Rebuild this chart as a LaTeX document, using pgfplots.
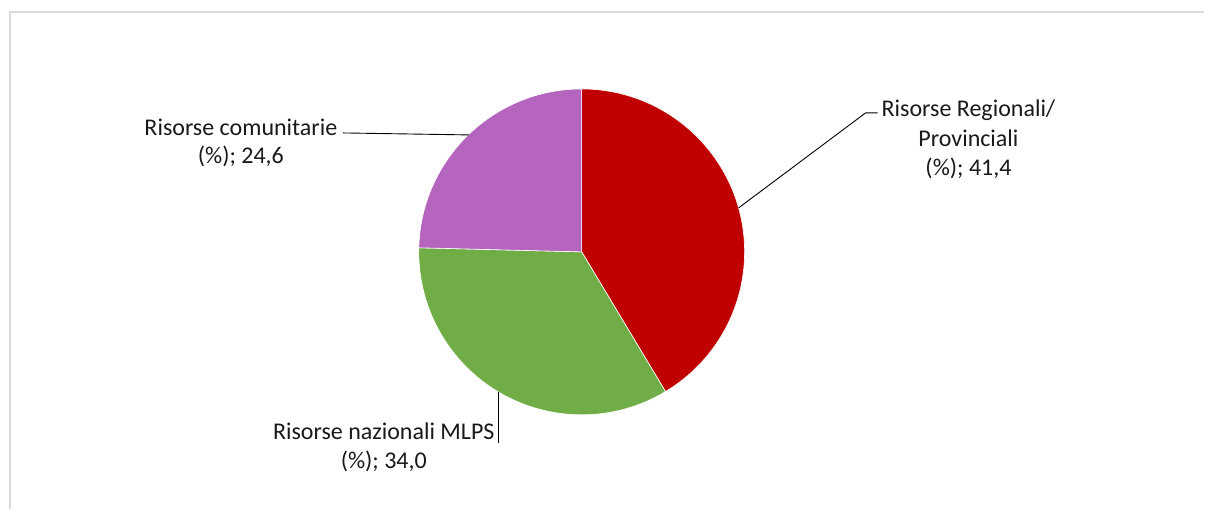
\documentclass[border=0pt]{standalone}
\usepackage{pgfplots}
\pgfplotsset{compat=1.18}
\usepackage{pgfplotstable}
\usepackage{fontspec}
\setmainfont{Carlito}
\definecolor{cReg}{HTML}{C00000}
\definecolor{cNaz}{HTML}{70AD47}
\definecolor{cCom}{HTML}{B565BE}
\definecolor{frameC}{HTML}{D9D9D9}
\pgfplotstableread{
name value
Regionali 41.4
Nazionali 34.0
Comunitarie 24.6
}\piedata
\begin{document}
\begin{tikzpicture}
\pgfplotstablegetelem{0}{value}\of\piedata \pgfmathsetmacro{\aA}{90-3.6*\pgfplotsretval}
\pgfplotstablegetelem{1}{value}\of\piedata \pgfmathsetmacro{\aB}{\aA-3.6*\pgfplotsretval}
\pgfplotstablegetelem{2}{value}\of\piedata \pgfmathsetmacro{\aC}{\aB-3.6*\pgfplotsretval}
\begin{axis}[hide axis, scale only axis, width=1205pt, height=509pt,
  xmin=0, xmax=1205, ymin=0, ymax=509, clip=false]
% bounding area
\path (axis cs:0,0) rectangle (axis cs:1205,509);
% frame
\draw[frameC, line width=1.3pt] (axis cs:1205,497) -- (axis cs:10,497) -- (axis cs:10,0);
% slices
\fill[cReg, draw=white, line width=0.6pt] (axis cs:582,257) -- ([shift={(90:163pt)}]axis cs:582,257) arc[start angle=90, end angle=\aA, radius=163pt] -- cycle;
\fill[cNaz, draw=white, line width=0.6pt] (axis cs:582,257) -- ([shift={(\aA:163pt)}]axis cs:582,257) arc[start angle=\aA, end angle=\aB, radius=163pt] -- cycle;
\fill[cCom, draw=white, line width=0.6pt] (axis cs:582,257) -- ([shift={(\aB:163pt)}]axis cs:582,257) arc[start angle=\aB, end angle=\aC, radius=163pt] -- cycle;
% leader lines
\draw[black, line width=0.9pt] (axis cs:739,301) -- (axis cs:866,396) -- (axis cs:878,396);
\draw[black, line width=0.9pt] (axis cs:343,376) -- (axis cs:469,374);
\draw[black, line width=0.9pt] (axis cs:499,66) -- (axis cs:499,117);
% labels
\tikzset{lab/.style={anchor=base, inner sep=0pt, font=\fontsize{24}{29}\selectfont, text=black!90}}
\node[lab] at (axis cs:969,392) {Risorse Regionali/};
\node[lab] at (axis cs:969,362.5) {Provinciali};
\node[lab] at (axis cs:969,333) {(\%); 41,4};
\node[lab] at (axis cs:241,373) {Risorse comunitarie};
\node[lab] at (axis cs:241,345) {(\%); 24,6};
\node[lab] at (axis cs:384,69) {Risorse nazionali MLPS};
\node[lab] at (axis cs:384,40) {(\%); 34,0};
\end{axis}
\end{tikzpicture}
\end{document}
